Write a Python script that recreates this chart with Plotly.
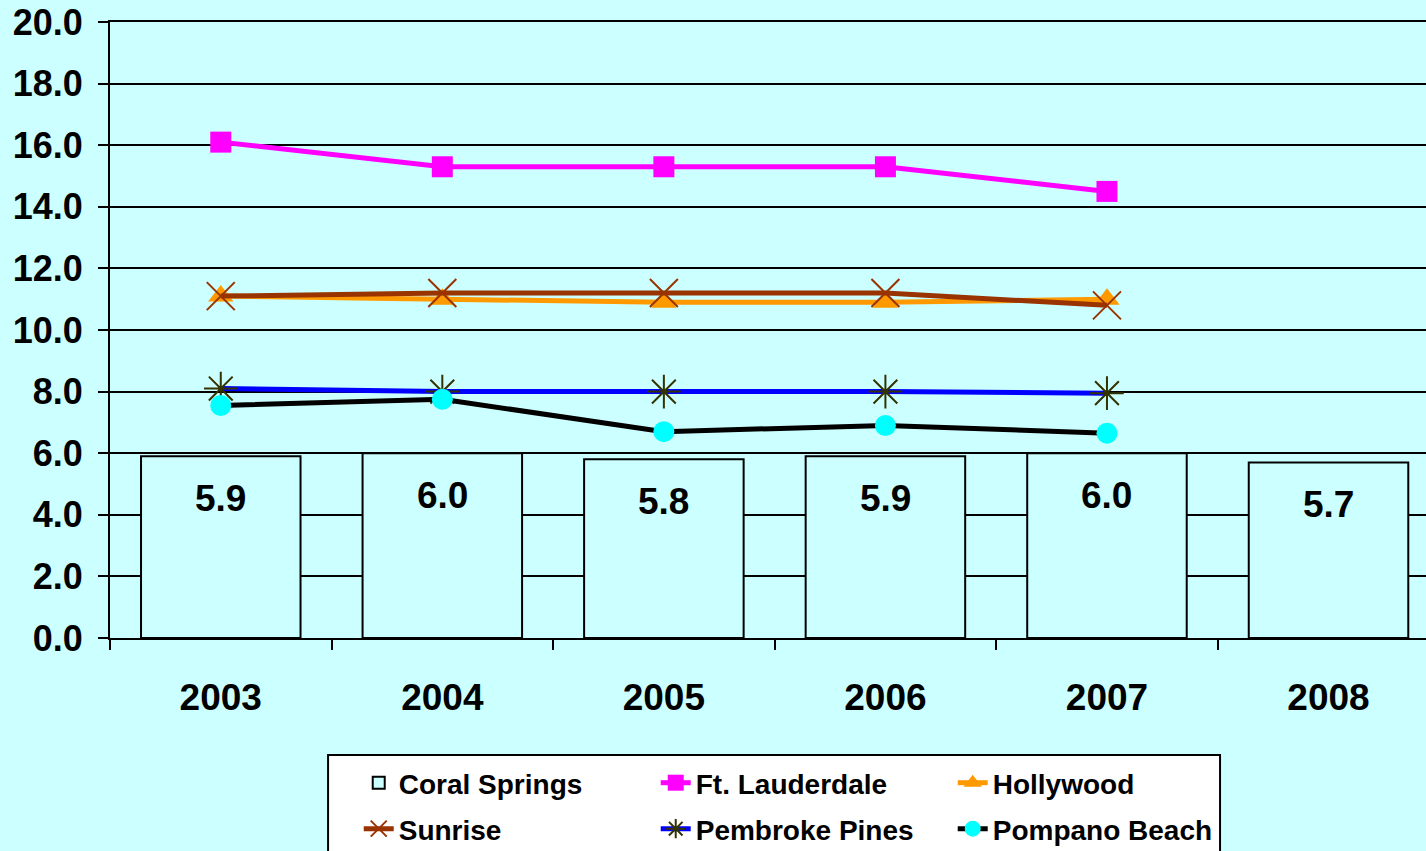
import plotly.graph_objects as go

# ---- data ----
years = ["2003", "2004", "2005", "2006", "2007", "2008"]
coral_springs = [5.9, 6.0, 5.8, 5.9, 6.0, 5.7]
line_years = ["2003", "2004", "2005", "2006", "2007"]
ft_lauderdale = [16.1, 15.3, 15.3, 15.3, 14.5]
hollywood = [11.1, 11.0, 10.9, 10.9, 11.0]
sunrise = [11.1, 11.2, 11.2, 11.2, 10.8]
pembroke_pines = [8.1, 8.0, 8.0, 8.0, 7.95]
pompano_beach = [7.55, 7.75, 6.7, 6.9, 6.65]
y_ticks = [0, 2, 4, 6, 8, 10, 12, 14, 16, 18, 20]

FONT = "Arial, Liberation Sans, sans-serif"
BG = "#CCFFFF"

fig = go.Figure()

fig.add_trace(go.Bar(
    x=years, y=coral_springs, name="Coral Springs", width=0.72,
    marker=dict(color=BG, line=dict(color="black", width=2)),
    legend="legend", hoverinfo="skip",
))

def line_trace(name, y, color, symbol, size, mcolor, mline=0, lw=5, legend="legend"):
    return go.Scatter(
        x=line_years, y=y, name=name, mode="lines+markers",
        line=dict(color=color, width=lw),
        marker=dict(symbol=symbol, size=size, color=mcolor,
                    line=dict(color=mcolor, width=mline)),
        legend=legend,
    )

fig.add_trace(line_trace("Ft. Lauderdale", ft_lauderdale, "#FF00FF", "square", 21, "#FF00FF"))
fig.add_trace(line_trace("Hollywood", hollywood, "#FF9900", "triangle-up", 22, "#FF9900"))
fig.add_trace(line_trace("Sunrise", sunrise, "#993300", "x-thin-open", 28, "#993300", mline=2, legend="legend2"))
fig.add_trace(line_trace("Pembroke Pines", pembroke_pines, "#0000FF", "asterisk-open", 28, "#333300", mline=2, legend="legend2"))
fig.add_trace(line_trace("Pompano Beach", pompano_beach, "#000000", "circle", 21, "#00FFFF", legend="legend2"))

# value labels inside the bars (x given as category index)
for i, v in enumerate(coral_springs):
    fig.add_annotation(x=i, y=v, yshift=-42, text=f"{v:.1f}", showarrow=False,
                       yanchor="middle",
                       font=dict(family=FONT, size=37, color="black", weight="bold"))

leg_common = dict(
    orientation="h", xanchor="left", yanchor="middle",
    bgcolor="rgba(0,0,0,0)", borderwidth=0,
    entrywidth=252, entrywidthmode="pixels",
    font=dict(family=FONT, size=28, color="black", weight="bold"),
    traceorder="normal",
)

fig.update_layout(
    width=1426, height=851,
    margin=dict(l=110, r=0, t=22, b=213, autoexpand=False),
    paper_bgcolor=BG, plot_bgcolor=BG,
    barmode="overlay",
    legend=dict(x=0.189, y=-0.2354, **leg_common),
    legend2=dict(x=0.189, y=-0.31, **leg_common),
    shapes=[dict(type="rect", xref="paper", yref="paper",
                 x0=0.1657, x1=0.8435, y0=-0.190, y1=-0.36,
                 fillcolor="white", line=dict(color="black", width=2),
                 layer="above")],
    font=dict(family=FONT, color="black"),
)

fig.update_xaxes(
    type="category", range=[-0.5, 5.44],
    showline=True, linecolor="black", linewidth=2, mirror=True,
    ticks="outside", tickson="boundaries", ticklen=10, tickcolor="black", tickwidth=2,
    ticklabelstandoff=26, automargin=False,
    tickfont=dict(family=FONT, size=37, color="black", weight="bold"),
    showgrid=False,
)
fig.update_yaxes(
    range=[0, 20], tickvals=y_ticks, tickformat=".1f",
    showline=True, linecolor="black", linewidth=2,
    ticks="outside", ticklen=10, tickcolor="black", tickwidth=2,
    ticklabelstandoff=8, automargin=False, ticklabeloverflow="allow",
    showgrid=True, gridcolor="black", gridwidth=2,
    zeroline=False,
    tickfont=dict(family=FONT, size=36, color="black", weight="bold"),
)

fig.write_html(
    "out.html",
    config={"displayModeBar": False},
    post_script="document.body.style.margin='0';document.body.style.background='#CCFFFF';document.body.style.overflow='hidden';",
)
